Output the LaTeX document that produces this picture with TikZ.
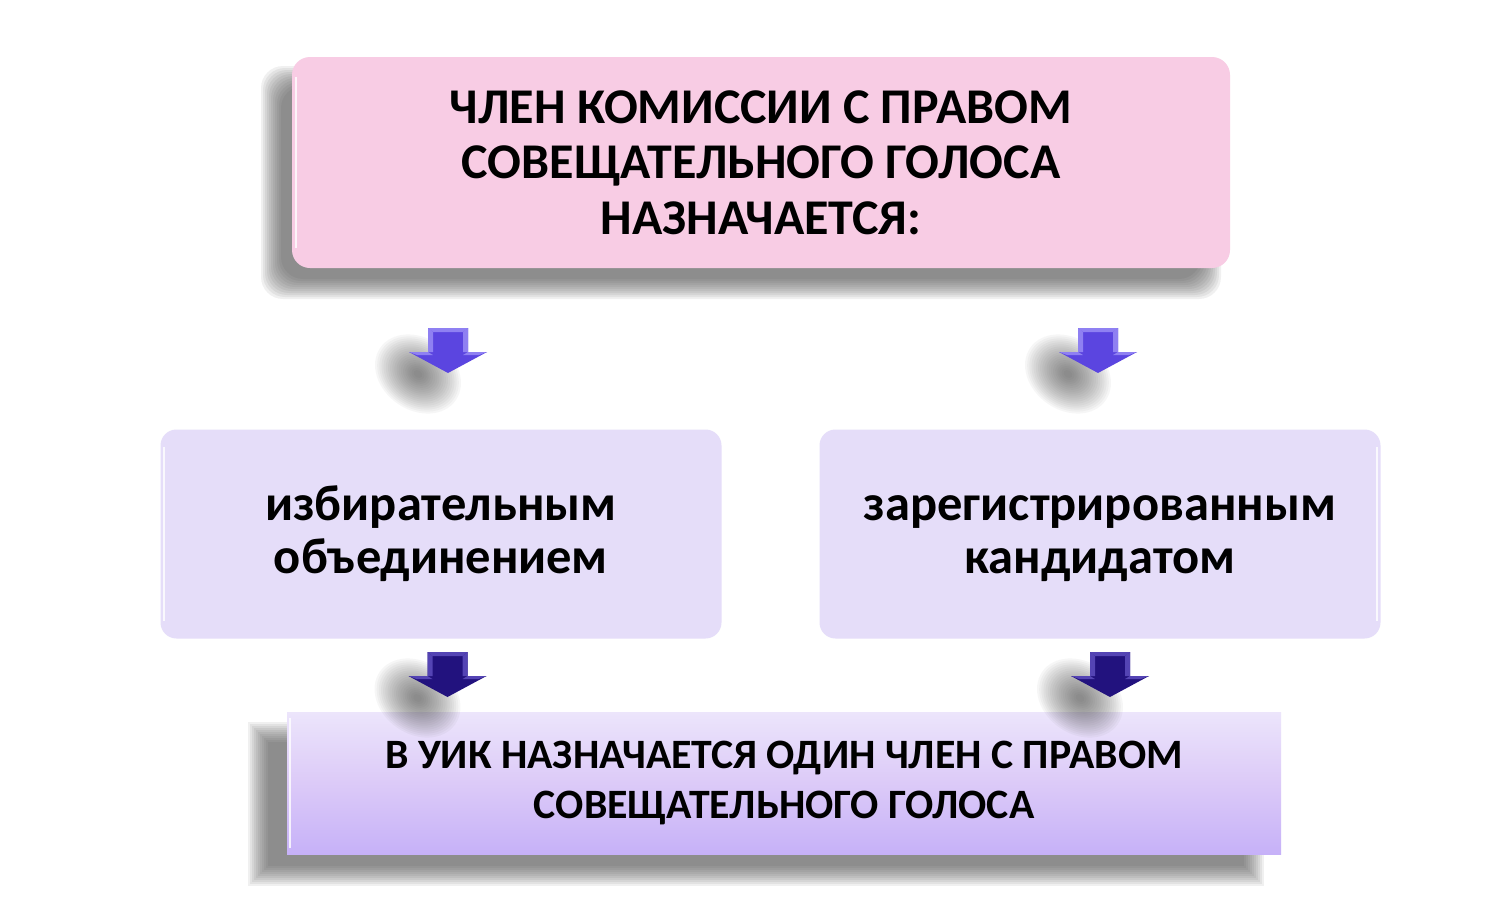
\documentclass[tikz,border=0pt]{standalone}
\usepackage{fontspec}
\setmainfont{Carlito}
\definecolor{pinkbox}{HTML}{F8CCE4}
\definecolor{lilacbox}{HTML}{E5DDF9}
\definecolor{lowtop}{HTML}{ECE5FB}
\definecolor{lowmid}{HTML}{DCCAF8}
\definecolor{lowbot}{HTML}{C6B1F8}
\definecolor{arrA}{HTML}{5B45E0}
\definecolor{arrAl}{HTML}{8F80F2}
\definecolor{arrB}{HTML}{22127E}
\definecolor{arrBl}{HTML}{5444B4}
\definecolor{shadowc}{HTML}{404040}
\tikzset{
  topbox/.style={fill=pinkbox, rounded corners=18pt, minimum width=938pt, minimum height=211pt,
    align=center, font=\bfseries\fontsize{50}{55.5}\selectfont},
  midbox/.style={fill=lilacbox, rounded corners=16pt, minimum width=561pt, minimum height=209pt,
    align=center, font=\bfseries\fontsize{50.5}{53}\selectfont},
  lowbox/.style={top color=lowtop, bottom color=lowbot, middle color=lowmid, minimum width=994pt, minimum height=142pt,
    align=center, font=\bfseries\fontsize{41.8}{50.5}\selectfont},
  shadowlayer/.style={fill=shadowc, fill opacity=0.075},
  blobl/.style={fill=shadowc, fill opacity=0.045},
  pics/blockarrow/.style 2 args={code={
    \foreach \r in {40,38,...,4} {\fill[blobl, rotate around={-35:(-30,46)}] (-30,46) ellipse ({\r*1.15} and {\r*0.9});}
    \fill[#1] (-20,0) -- (20,0) -- (20,24) -- (39,24) -- (0,45) -- (-39,24) -- (-20,24) -- cycle;
    \fill[#2] (-20,0) -- (20,0) -- (15,4) -- (-15,4) -- cycle;
    \fill[#2] (-20,0) -- (-15,4) -- (-15,24) -- (-20,24) -- cycle;
    \fill[#2] (20,0) -- (15,4) -- (15,24) -- (20,24) -- cycle;
    \fill[#2] (-39,24) -- (-20,24) -- (-15,27) -- (-31,27) -- cycle;
    \fill[#2] (39,24) -- (20,24) -- (15,27) -- (31,27) -- cycle;
  }}
}
\begin{document}
\begin{tikzpicture}[x=1pt,y=-1pt]
\useasboundingbox (0,0) rectangle (1500,902);
\fill[white] (0,0) rectangle (1500,902);

% soft shadows
\foreach \i in {0,...,10} {
  \fill[shadowlayer, rounded corners=22pt] ({292-20-11+2*\i},{57+20-11+2*\i}) rectangle ({1230-20+11-2*\i},{268+20+11-2*\i});
  \fill[shadowlayer] ({287-28-11+2*\i},{711+22-11+2*\i}) rectangle ({1281-28+11-2*\i},{853+22+11-2*\i});
}

\node[topbox] (top) at (761,162.5) {ЧЛЕН КОМИССИИ С ПРАВОМ\\СОВЕЩАТЕЛЬНОГО ГОЛОСА\\НАЗНАЧАЕТСЯ:};
\draw[white, line width=2pt, opacity=0.8] ([xshift=4pt,yshift=-20pt]top.north west) -- ([xshift=4pt,yshift=20pt]top.south west);

\node[midbox] (left) at (441,534) {избирательным\\объединением\vphantom{д}};
\node[midbox] (right) at (1100,534) {зарегистрированным\vphantom{б}\\кандидатом};
\draw[white, line width=2pt, opacity=0.8] ([xshift=4pt,yshift=-18pt]left.north west) -- ([xshift=4pt,yshift=18pt]left.south west);
\draw[white, line width=2pt, opacity=0.8] ([xshift=-4pt,yshift=-18pt]right.north east) -- ([xshift=-4pt,yshift=18pt]right.south east);

\coordinate (a1) at (448,328);
\coordinate (a2) at (1098,328);
\coordinate (a3) at (447.5,652);
\coordinate (a4) at (1110,652);
\pic at (a1) {blockarrow={arrA}{arrAl}};
\pic at (a2) {blockarrow={arrA}{arrAl}};

\node[lowbox] (bottom) at (784,783) {В УИК НАЗНАЧАЕТСЯ ОДИН ЧЛЕН С ПРАВОМ\\СОВЕЩАТЕЛЬНОГО ГОЛОСА};
\draw[white, line width=2pt, opacity=0.8] ([xshift=3pt,yshift=-6pt]bottom.north west) -- ([xshift=3pt,yshift=6pt]bottom.south west);

\pic at (a3) {blockarrow={arrB}{arrBl}};
\pic at (a4) {blockarrow={arrB}{arrBl}};
\end{tikzpicture}
\end{document}
